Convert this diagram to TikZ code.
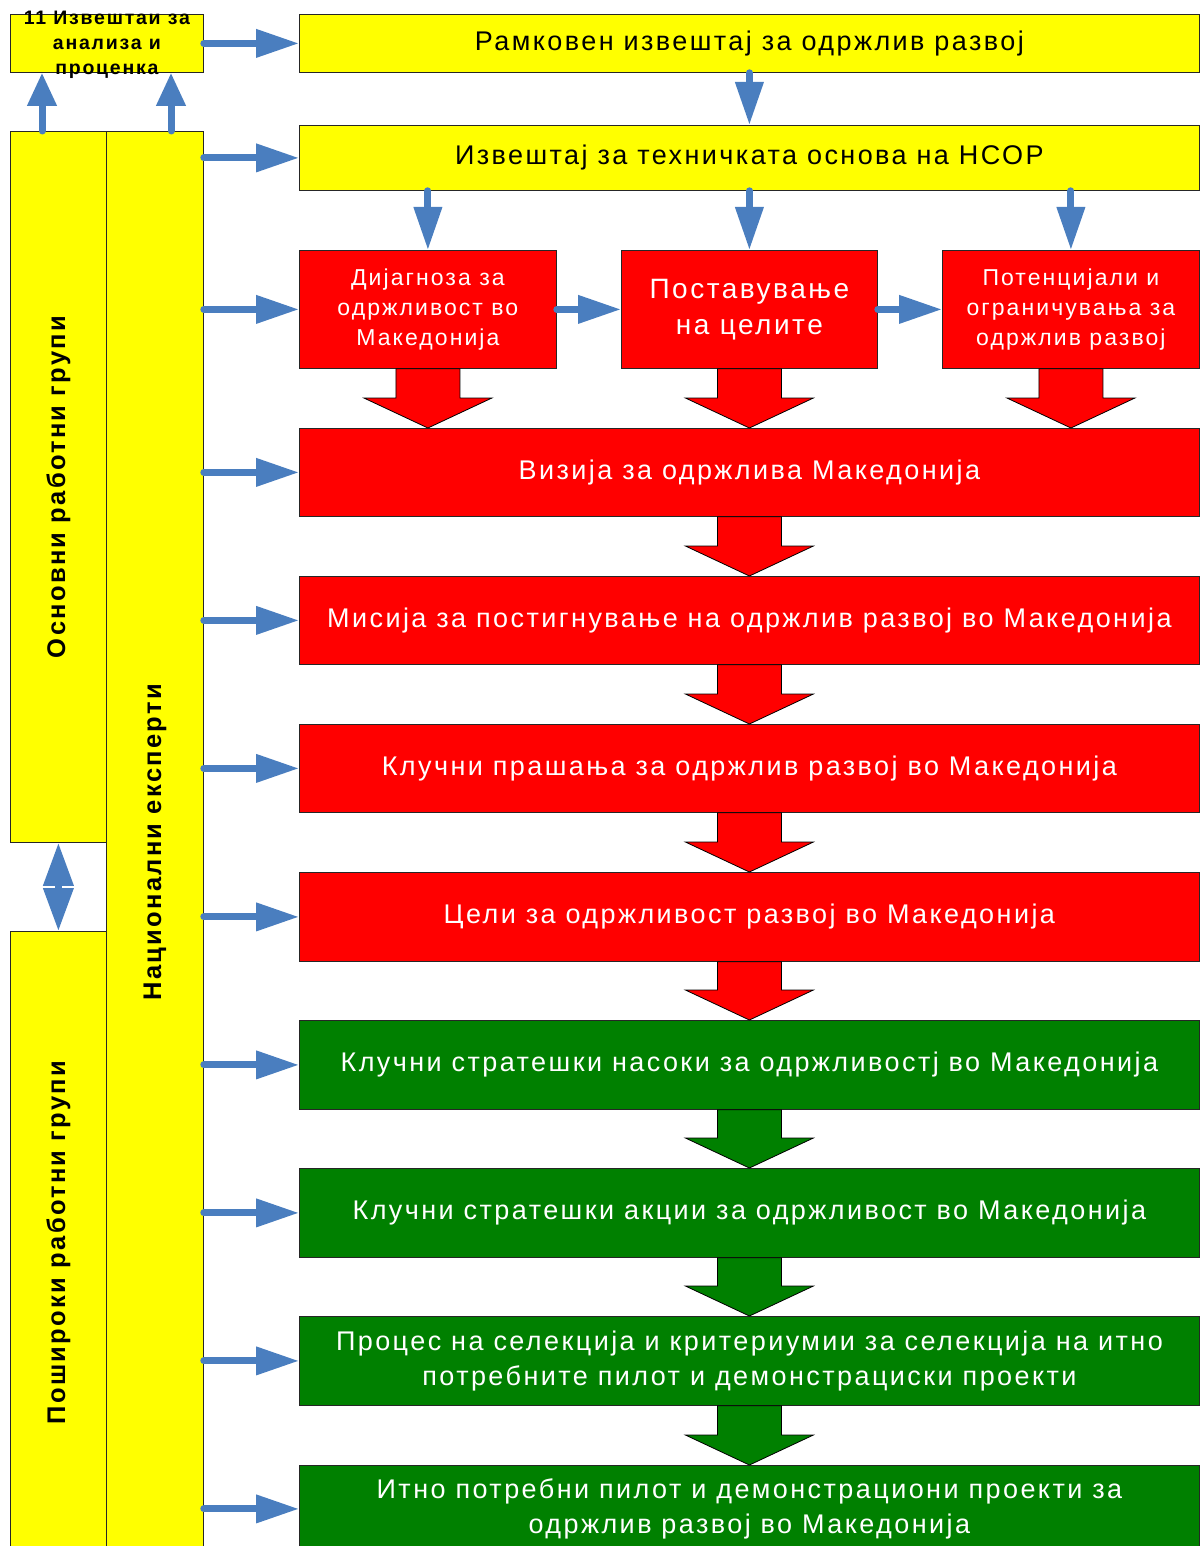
\documentclass[tikz,border=0pt]{standalone}
\usepackage{fontspec}
\setmainfont{Liberation Sans}[LetterSpace=9]
\usetikzlibrary{arrows.meta, positioning, calc}
\definecolor{flowblue}{RGB}{74,126,191}
\definecolor{boxred}{RGB}{255,0,0}
\definecolor{boxgreen}{RGB}{0,128,0}
\definecolor{boxyellow}{RGB}{255,255,0}

% wide block arrow from the bottom of one box to the top of the next
\newcommand{\fatarrow}[3]{%
  \filldraw[fill=#3, draw=black, line width=0.8pt]
    ($(#1.south)+(-32,0)$) -- ($(#1.south |- #2.north)+(-32,-30)$)
    -- ($(#1.south |- #2.north)+(-64,-30)$) -- (#1.south |- #2.north)
    -- ($(#1.south |- #2.north)+(64,-30)$) -- ($(#1.south |- #2.north)+(32,-30)$)
    -- ($(#1.south)+(32,0)$) -- cycle;}

\begin{document}
\begin{tikzpicture}[x=1pt, y=-1pt,
  box/.style={draw=black!85, line width=0.8pt, inner sep=0pt, anchor=north west,
              align=center, font=\fontsize{27}{35}\selectfont},
  ybox/.style={box, fill=boxyellow},
  rbox/.style={box, fill=boxred, text=white},
  gbox/.style={box, fill=boxgreen, text=white},
  vtext/.style={rotate=90, font=\fontsize{25.5}{30}\selectfont\bfseries},
  arrow/.style={flowblue, line width=7pt, line cap=round,
                -{Triangle[length=43pt, width=27pt]}},
  uparrow/.style={arrow, -{Triangle[length=33pt, width=28pt]}}]

  \useasboundingbox (0,0) rectangle (1200,1546);

  % left column
  \node[ybox, minimum width=193, minimum height=58,
        label={[font=\fontsize{19.5}{25}\selectfont\bfseries, align=center, yshift=-1pt]center:11 Извештаи за\\анализа и\\проценка}]
        (rep) at (10,14) {};
  \node[ybox, minimum width=96, minimum height=711] (basic) at (10,131) {};
  \node[ybox, minimum width=97, minimum height=1422] (nat) at (106,131) {};
  \node[ybox, minimum width=96, minimum height=622] (wide) at (10,931) {};
  \node[vtext] at (basic) {Основни работни групи};
  \node[vtext] at (nat) {Национални експерти};
  \node[vtext] at (wide) {Пошироки работни групи};

  % main column
  \node[ybox, minimum width=900, minimum height=58] (frame) at (299,14) {Рамковен извештај за одржлив развој};
  \node[ybox, minimum width=900, minimum height=65] (tech) at (299,125) {Извештај за техничката основа на НСОР};
  \node[rbox, minimum width=257, minimum height=118, font=\fontsize{23}{30}\selectfont] (diag) at (299,250) {Дијагноза за\\одржливост во\\Македонија};
  \node[rbox, minimum width=256, minimum height=118, font=\fontsize{28}{36}\selectfont] (goal) at (621,250) {Поставување\\на целите};
  \node[rbox, minimum width=257, minimum height=118, font=\fontsize{23}{30}\selectfont] (pot) at (942,250) {Потенцијали и\\ограничувања за\\одржлив развој};
  \node[rbox, minimum width=900, minimum height=88] (vis) at (299,428) {Визија за одржлива Македонија};
  \node[rbox, minimum width=900, minimum height=88] (mis) at (299,576) {Мисија за постигнување на одржлив развој во Македонија};
  \node[rbox, minimum width=900, minimum height=88] (iss) at (299,724) {Клучни прашања за одржлив развој во Македонија};
  \node[rbox, minimum width=900, minimum height=89] (obj) at (299,872) {Цели за одржливост развој во Македонија};
  \node[gbox, minimum width=900, minimum height=89] (dir) at (299,1020) {Клучни стратешки насоки за одржливостј во Македонија};
  \node[gbox, minimum width=900, minimum height=89] (act) at (299,1168) {Клучни стратешки акции за одржливост во Македонија};
  \node[gbox, minimum width=900, minimum height=89] (sel) at (299,1316) {Процес на селекција и критериумии за селекција на итно\\потребните пилот и демонстрациски проекти};
  \node[gbox, minimum width=900, minimum height=87] (pil) at (299,1465) {Итно потребни пилот и демонстрациони проекти за\\одржлив развој во Македонија};

  % block arrows
  \fatarrow{diag}{vis}{boxred}
  \fatarrow{goal}{vis}{boxred}
  \fatarrow{pot}{vis}{boxred}
  \fatarrow{vis}{mis}{boxred}
  \fatarrow{mis}{iss}{boxred}
  \fatarrow{iss}{obj}{boxred}
  \fatarrow{obj}{dir}{boxred}
  \fatarrow{dir}{act}{boxgreen}
  \fatarrow{act}{sel}{boxgreen}
  \fatarrow{sel}{pil}{boxgreen}

  % blue connectors
  \draw[arrow] (rep.east) -- (frame.west);
  \foreach \b in {tech, diag, vis, mis, iss, obj, dir, act, sel, pil}
    \draw[arrow] (nat.east |- \b.west) -- (\b.west);
  \draw[uparrow] ($(basic.north west)+(32,0)$) -- ($(rep.south west)+(32,0)$);
  \draw[uparrow] ($(nat.north west)+(65,0)$) -- ($(rep.south west)+(161,0)$);
  \draw[arrow, {Triangle[length=43pt, width=29pt]}-{Triangle[length=43pt, width=29pt]}]
    (basic.south) -- (wide.north);
  \draw[arrow] (frame) -- (tech);
  \foreach \b in {diag, goal, pot}
    \draw[arrow] (\b.north |- tech.south) -- (\b.north);
  \draw[arrow] (diag) -- (goal);
  \draw[arrow] (goal) -- (pot);
\end{tikzpicture}
\end{document}
